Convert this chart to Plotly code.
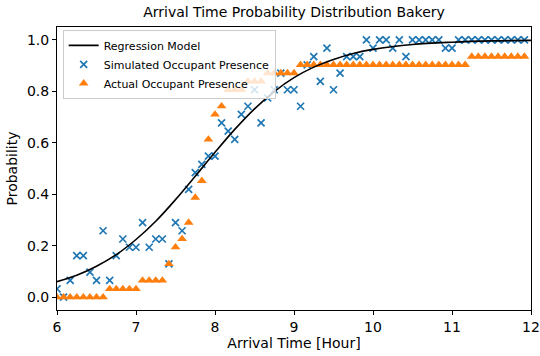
import plotly.graph_objects as go

# Time grid: 5-minute steps from 6:00 to 11:55 (hours)
hours = [6 + i / 12 for i in range(72)]

simulated = [
    0.032, 0.000, 0.065, 0.161, 0.161, 0.097, 0.065, 0.258, 0.065, 0.161,
    0.226, 0.194, 0.194, 0.290, 0.194, 0.226, 0.226, 0.129, 0.290, 0.258,
    0.419, 0.484, 0.516, 0.548, 0.548, 0.677, 0.645, 0.613, 0.710, 0.742,
    0.806, 0.677, 0.774, 0.806, 0.871, 0.806, 0.806, 0.742, 0.903, 0.935,
    0.839, 0.968, 0.806, 0.871, 0.935, 0.935, 0.935, 1.000, 0.968, 1.000,
    1.000, 0.968, 1.000, 0.935, 1.000, 1.000, 1.000, 1.000, 1.000, 0.968,
    0.968, 1.000, 1.000, 1.000, 1.000, 1.000, 1.000, 1.000, 1.000, 1.000,
    1.000, 1.000,
]

actual = (
    [0.000] * 8 + [0.032] * 5 + [0.065] * 4 +
    [0.129, 0.194, 0.226, 0.290, 0.387, 0.452, 0.613, 0.710, 0.742] +
    [0.806] * 3 + [0.839] * 3 + [0.871] * 5 + [0.903] * 26 + [0.935] * 9
)

curve_x = [6.0, 6.25, 6.5, 6.75, 7.0, 7.25, 7.5, 7.75, 8.0, 8.25, 8.5, 8.75,
           9.0, 9.25, 9.5, 9.75, 10.0, 10.5, 11.0, 11.5, 12.0]
curve_y = [0.060, 0.085, 0.120, 0.165, 0.224, 0.295, 0.379, 0.470, 0.563,
           0.652, 0.732, 0.799, 0.853, 0.894, 0.924, 0.947, 0.963, 0.982,
           0.991, 0.996, 0.998]

x_ticks = [6, 7, 8, 9, 10, 11, 12]
y_ticks = [0.0, 0.2, 0.4, 0.6, 0.8, 1.0]

FONT = "DejaVu Sans"

fig = go.Figure()
fig.add_trace(go.Scatter(
    x=hours, y=simulated, mode="markers", name="Simulated Occupant Presence",
    legendrank=2,
    marker=dict(symbol="x-thin", size=7, color="#1f77b4",
                line=dict(width=1.7, color="#1f77b4")),
))
fig.add_trace(go.Scatter(
    x=hours, y=actual, mode="markers", name="Actual Occupant Presence",
    legendrank=3,
    marker=dict(symbol="triangle-up", size=8.5, color="#ff7f0e", line=dict(width=0)),
))
fig.add_trace(go.Scatter(
    x=curve_x, y=curve_y, mode="lines", name="Regression Model",
    legendrank=1, line=dict(color="black", width=1.6, shape="spline"),
))

axis_common = dict(
    showline=True, linecolor="black", linewidth=1, mirror=True,
    ticks="outside", ticklen=4, tickwidth=1, tickcolor="black",
    showgrid=False, zeroline=False, automargin=False,
    tickfont=dict(family=FONT, size=14, color="black"),
)

fig.update_layout(
    width=540, height=356,
    margin=dict(l=57, r=9, t=27, b=46),
    paper_bgcolor="white", plot_bgcolor="white",
    font=dict(family=FONT, color="black"),
    title=dict(text="Arrival Time Probability Distribution Bakery",
               x=0.5, xref="paper", xanchor="center",
               y=1 - 12 / 356, yref="container", yanchor="middle",
               font=dict(family=FONT, size=14, color="black")),
    xaxis=dict(range=[6, 12], tickvals=x_ticks,
               title=dict(text="Arrival Time [Hour]", standoff=2,
                          font=dict(family=FONT, size=14)),
               **axis_common),
    yaxis=dict(range=[-0.05, 1.05], tickvals=y_ticks, tickformat=".1f",
               title=dict(text="Probability", standoff=6,
                          font=dict(family=FONT, size=14)),
               **axis_common),
    legend=dict(x=0.012, y=0.99, xanchor="left", yanchor="top",
                bgcolor="rgba(255,255,255,0.8)", bordercolor="#cccccc",
                borderwidth=1, font=dict(family=FONT, size=11),
                itemwidth=30, tracegroupgap=0),
    showlegend=True,
)

fig.write_html("out.html",
               config={"displayModeBar": False},
               post_script="document.body.style.margin='0';"
                           "document.body.style.overflow='hidden';")
